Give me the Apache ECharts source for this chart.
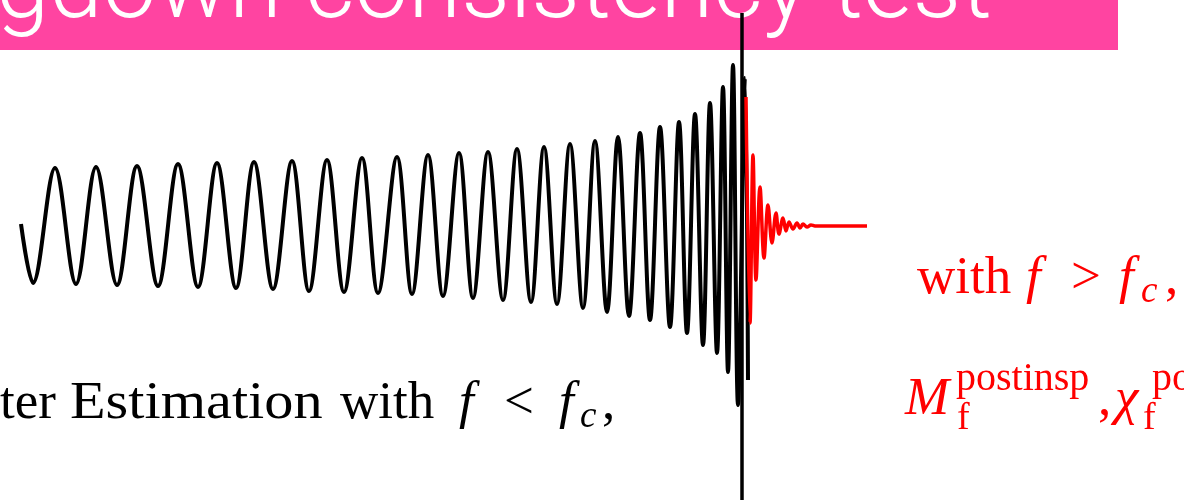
<!DOCTYPE html>
<html>
<head>
<meta charset="utf-8">
<script src="https://cdn.jsdelivr.net/npm/echarts@6/dist/echarts.min.js"></script>
<style>
  html, body { margin: 0; padding: 0; background: #fff; }
  #chart { width: 1184px; height: 501px; }
</style>
</head>
<body>
<div id="chart"></div>
<script>
// inspiral (black): time of each peak / trough and the strain there
var chirpTime = [-7.22, -7.10, -6.88, -6.67, -6.47, -6.26, -6.06, -5.85, -5.65, -5.45,
  -5.26, -5.07, -4.89, -4.70, -4.51, -4.34, -4.16, -3.99, -3.81, -3.65,
  -3.46, -3.31, -3.15, -3.00, -2.84, -2.70, -2.55, -2.40, -2.26, -2.12,
  -1.99, -1.86, -1.73, -1.60, -1.48, -1.36, -1.25, -1.14, -1.03, -0.93,
  -0.83, -0.73, -0.64, -0.56, -0.48, -0.40, -0.33, -0.26, -0.20, -0.15,
  -0.10, -0.05, 0.02, 0.05];
var chirpStrain = [0.02, -0.57, 0.58, -0.58, 0.59, -0.59, 0.60, -0.60, 0.62, -0.61,
  0.63, -0.62, 0.64, -0.63, 0.65, -0.65, 0.66, -0.66, 0.68, -0.67,
  0.69, -0.68, 0.71, -0.70, 0.73, -0.72, 0.74, -0.74, 0.77, -0.76,
  0.79, -0.78, 0.82, -0.82, 0.85, -0.86, 0.89, -0.90, 0.93, -0.94,
  0.99, -1.01, 1.04, -1.07, 1.12, -1.19, 1.23, -1.27, 1.39, -1.46,
  1.61, -1.79, 1.48, -1.54];

// ringdown (red)
var ringTime = [0.03, 0.07, 0.10, 0.13, 0.17, 0.21, 0.25, 0.29, 0.33, 0.36,
  0.40, 0.43, 0.46, 0.50, 0.54, 0.57, 0.60, 0.64, 0.68, 0.72, 1.24];
var ringStrain = [1.29, -0.97, 0.71, -0.54, 0.39, -0.32, 0.21, -0.17, 0.13, -0.08,
  0.08, -0.05, 0.04, -0.03, 0.03, -0.02, 0.02, -0.01, 0.01, 0.00, 0.00];

var mergerTime = -0.01;

var chirpData = chirpTime.map(function (t, i) { return [t, chirpStrain[i]]; });
var ringData = ringTime.map(function (t, i) { return [t, ringStrain[i]]; });

var serif = '"Liberation Serif", "DejaVu Serif", serif';

// baseline -> middle (canvas textBaseline 'middle')
function txt(x, base, text, size, italic, color, sx) {
  return {
    type: 'text',
    x: x,
    y: base - size * 0.34,
    scaleX: sx || 1,
    z: 10,
    style: {
      text: text,
      font: (italic ? 'italic ' : '') + size + 'px ' + serif,
      fill: color,
      verticalAlign: 'middle',
      align: 'left'
    }
  };
}

var chart = echarts.init(document.getElementById('chart'));
var option = {
  animation: false,
  grid: { left: 21, right: 317, top: 13, bottom: 1 },
  xAxis: { type: 'value', min: -7.22, max: 1.24, show: false },
  yAxis: { type: 'value', min: -2.74, max: 2.13, show: false },
  graphic: [
    {
      type: 'rect',
      z: 0,
      shape: { x: 0, y: 0, width: 1118, height: 50 },
      style: { fill: '#ff44a1' }
    },
    {
      type: 'text',
      z: 1,
      x: -4,
      y: -7,
      style: {
        text: 'gdown consistency test',
        font: '300 96px Roboto, "Liberation Sans", sans-serif',
        fill: '#fff',
        verticalAlign: 'middle'
      }
    },
    // left caption
    txt(0, 422, 'ter', 53, false, '#000'),
    txt(70, 422, 'Estimation', 53, false, '#000', 1.1),
    txt(340, 422, 'with', 53, false, '#000'),
    txt(459, 422, 'f', 53, true, '#000'),
    txt(504, 422, '<', 53, false, '#000'),
    txt(559, 422, 'f', 53, true, '#000'),
    txt(580, 430, 'c', 37, true, '#000'),
    txt(602, 422, ',', 53, false, '#000'),
    // right caption, line 1
    txt(917, 297, 'with', 53, false, '#ff0000'),
    txt(1026, 297, 'f', 53, true, '#ff0000'),
    txt(1071, 297, '>', 53, false, '#ff0000'),
    txt(1119, 297, 'f', 53, true, '#ff0000'),
    txt(1141, 305, 'c', 37, true, '#ff0000'),
    txt(1165, 297, ',', 53, false, '#ff0000'),
    // right caption, line 2
    txt(905, 418, 'M', 53, true, '#ff0000'),
    txt(956, 393, 'postinsp', 40, false, '#ff0000'),
    txt(957, 432, 'f', 38, false, '#ff0000'),
    txt(1098, 418, ',', 53, false, '#ff0000'),
    txt(1115, 418, 'χ', 53, true, '#ff0000'),
    txt(1143, 432, 'f', 38, false, '#ff0000'),
    txt(1152, 393, 'po', 40, false, '#ff0000')
  ],
  series: [
    {
      name: 'inspiral',
      type: 'line',
      z: 3,
      data: chirpData,
      smooth: 0.35,
      showSymbol: false,
      lineStyle: { color: '#000', width: 4 },
      markLine: {
        silent: true,
        symbol: 'none',
        label: { show: false },
        lineStyle: { color: '#000', width: 3.5, type: 'solid' },
        data: [{ xAxis: mergerTime }]
      }
    },
    {
      name: 'ringdown',
      type: 'line',
      z: 4,
      data: ringData,
      smooth: 0.35,
      showSymbol: false,
      lineStyle: { color: '#ff0000', width: 3.5 }
    }
  ]
};
chart.setOption(option);
</script>
</body>
</html>
